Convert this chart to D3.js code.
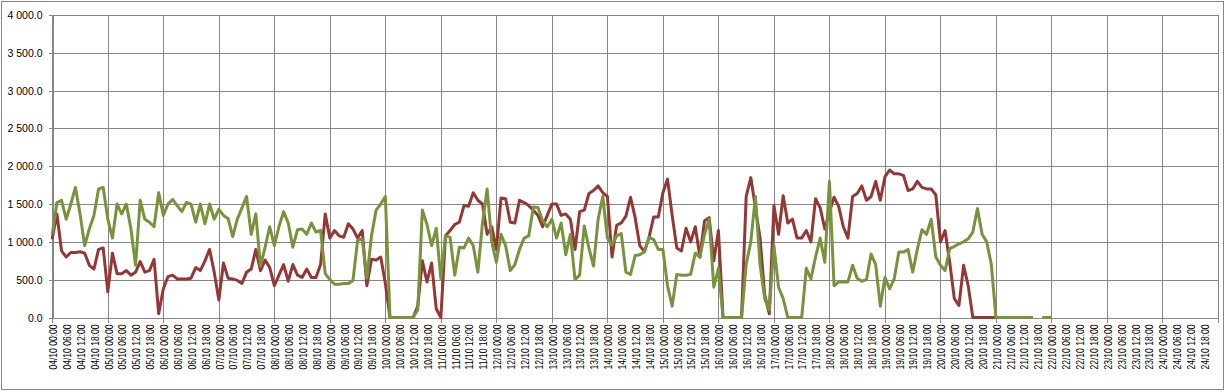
<!DOCTYPE html>
<html>
<head>
<meta charset="utf-8">
<script src="https://cdn.jsdelivr.net/npm/d3@7"></script>
<style>
  html, body { margin: 0; padding: 0; background: #fff; }
  svg { display: block; }
</style>
</head>
<body>
<svg id="chart" width="1229" height="392"></svg>
<script>
// ---------- DATA ----------
const days = ["04/10","05/10","06/10","07/10","08/10","09/10","10/10","11/10","12/10","13/10","14/10",
              "15/10","16/10","17/10","18/10","19/10","20/10","21/10","22/10","23/10","24/10"];
const hours = ["00:00","06:00","12:00","18:00"];
const tickLabels = days.flatMap(d => hours.map(h => d + " " + h));
const yTicks = [0, 500, 1000, 1500, 2000, 2500, 3000, 3500, 4000];
const stepHours = 2; // one value every 2 hours, starting 04/10 00:00

const seriesRed = [
  // 04/10
  1050,1370,880,800,860,860,870,850,690,640,900,920,
  // 05/10
  340,850,580,580,620,560,600,740,600,620,770,50,
  // 06/10
  380,540,560,510,510,510,520,660,620,750,900,600,
  // 07/10
  230,720,520,510,490,450,600,640,900,620,760,660,
  // 08/10
  420,560,700,480,700,560,530,640,530,530,700,1370,
  // 09/10
  1050,1150,1080,1060,1240,1170,1050,1150,420,770,760,800,
  // 10/10
  450,0,0,0,0,0,0,150,750,470,720,115,
  // 11/10
  0,1080,1150,1230,1260,1480,1470,1650,1550,1500,1100,1200,
  // 12/10
  900,1580,1570,1260,1250,1550,1520,1480,1420,1350,1200,1350,
  // 13/10
  1500,1500,1350,1370,1300,900,1400,1420,1640,1680,1740,1650,
  // 14/10
  1600,800,1220,1250,1340,1590,1320,950,870,1060,1330,1330,
  // 15/10
  1650,1830,1350,920,880,1180,1000,1200,800,1280,1320,750,
  // 16/10
  1150,0,0,0,0,0,1600,1850,1450,1050,300,50,
  // 17/10
  1480,1100,1610,1250,1300,1050,1050,1150,1000,1570,1450,1170,
  // 18/10
  1400,1590,1470,1200,1050,1600,1640,1740,1550,1600,1800,1550,
  // 19/10
  1860,1950,1900,1900,1880,1680,1700,1800,1720,1700,1700,1620,
  // 20/10
  1000,1150,730,250,160,690,420,0,0,0,0,0,
  // 21/10
  0
];

const seriesGreen = [
  // 04/10
  1100,1520,1550,1300,1500,1720,1370,950,1170,1350,1700,1720,
  // 05/10
  1300,1050,1500,1370,1500,1170,690,1550,1300,1260,1200,1650,
  // 06/10
  1350,1500,1560,1480,1400,1520,1500,1260,1500,1240,1500,1300,
  // 07/10
  1430,1350,1310,1070,1300,1450,1600,1100,1370,680,930,1200,
  // 08/10
  950,1200,1400,1250,930,1160,1170,1100,1250,1130,1150,580,
  // 09/10
  500,440,440,450,450,490,1020,1040,520,1080,1420,1500,
  // 10/10
  1600,0,0,0,0,0,0,100,1420,1230,950,1180,
  // 11/10
  510,1080,1060,560,930,920,1050,950,600,1250,1700,1000,
  // 12/10
  730,1100,950,620,700,900,1050,1080,1460,1450,1280,1200,
  // 13/10
  1300,1050,1250,830,1100,500,560,1210,920,680,1300,1600,
  // 14/10
  1050,960,1080,1110,600,570,820,830,870,1060,1030,900,
  // 15/10
  900,420,150,570,560,560,570,850,800,1100,1300,400,
  // 16/10
  650,0,0,0,0,0,700,1000,1600,700,250,100,
  // 17/10
  950,400,250,0,0,0,0,650,510,800,1050,730,
  // 18/10
  1800,420,470,470,470,690,520,480,500,840,700,150,
  // 19/10
  530,380,510,865,865,900,600,900,1160,1100,1300,800,
  // 20/10
  690,620,910,940,975,1000,1040,1130,1440,1100,1000,700,
  // 21/10
  0,0,0,0,0,0,0,0,0,null,0,0,
  // 22/10
  0
];

// ---------- LAYOUT ----------
(function draw() {
const svg = d3.select("#chart");
const W = 1229, H = 392;
const pLeft = 52.3, pRight = 1218, pTop = 15, pBottom = 317.5;
const gridColor = "#868686";

const x = d3.scaleLinear().domain([0, days.length * 24]).range([pLeft, pRight]);
const y = d3.scaleLinear().domain([0, 4000]).range([pBottom, pTop]);
const px = v => Math.round(v) + 0.5;

svg.append("rect").attr("width", W).attr("height", H).attr("fill", "#fff");
// outer chart border
svg.append("rect").attr("x", 1.5).attr("y", 1.5).attr("width", 1222).attr("height", 388)
  .attr("fill", "none").attr("stroke", gridColor).attr("stroke-width", 1);

const grid = svg.append("g").attr("shape-rendering", "crispEdges");
grid.selectAll("line.h").data(yTicks).join("line").attr("class", "h")
  .attr("x1", px(pLeft)).attr("x2", px(pRight))
  .attr("y1", d => px(y(d))).attr("y2", d => px(y(d)))
  .attr("stroke", gridColor);
const dayIdx = d3.range(0, days.length + 1);
grid.selectAll("line.v").data(dayIdx).join("line").attr("class", "v")
  .attr("x1", d => px(x(d * 24))).attr("x2", d => px(x(d * 24)))
  .attr("y1", px(y(4000))).attr("y2", px(y(0)) + 4)
  .attr("stroke", gridColor);

// y axis
const fmt = d3.formatLocale({decimal: ".", thousands: "\u00a0", grouping: [3], currency: ["", ""]}).format(",.1f");
const yAxis = svg.append("g").attr("transform", `translate(${px(pLeft)},0)`)
  .call(d3.axisLeft(y).tickValues(yTicks).tickSize(4).tickPadding(6).tickFormat(fmt));
yAxis.select(".domain").attr("stroke", gridColor).attr("shape-rendering", "crispEdges");
yAxis.selectAll(".tick").attr("transform", d => `translate(0,${px(y(d))})`);
yAxis.selectAll(".tick line").attr("stroke", gridColor).attr("shape-rendering", "crispEdges");
yAxis.selectAll(".tick text").attr("fill", "#000")
  .style("font-family", "'Liberation Sans', Arial, sans-serif").style("font-size", "10.5px");

// x labels (every 6 hours)
svg.append("g").selectAll("text").data(tickLabels).join("text")
  .attr("transform", (d, i) => `translate(${x(i * 6) + 1},${pBottom + 7}) rotate(-90)`)
  .attr("text-anchor", "end")
  .attr("dy", "0.36em")
  .attr("textLength", 45)
  .attr("lengthAdjust", "spacingAndGlyphs")
  .style("font-family", "'Liberation Sans', Arial, sans-serif")
  .style("font-size", "10.5px")
  .attr("fill", "#000")
  .text(d => d);

// ---------- LINES ----------
const line = d3.line()
  .defined(d => d !== null)
  .x((d, i) => x(i * stepHours))
  .y(d => y(d));

svg.append("path").datum(seriesRed)
  .attr("d", line)
  .attr("fill", "none").attr("stroke", "#953735").attr("stroke-width", 3)
  .attr("stroke-linejoin", "round").attr("stroke-linecap", "round");

svg.append("path").datum(seriesGreen)
  .attr("d", line)
  .attr("fill", "none").attr("stroke", "#77933C").attr("stroke-width", 3)
  .attr("stroke-linejoin", "round").attr("stroke-linecap", "butt");
})();
</script>
</body>
</html>
